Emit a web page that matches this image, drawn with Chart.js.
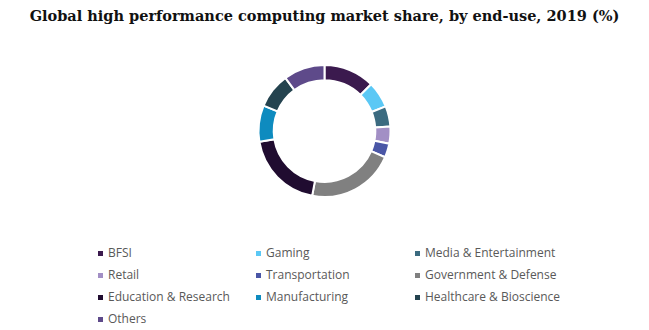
<!DOCTYPE html>
<html lang="en">

<head>
  <meta charset="UTF-8">
  <title>HPC market share by end-use</title>
  <style>
    body { margin: 0; background: #fff; width: 649px; height: 330px; position: relative; overflow: hidden; }
    h1 {
      position: absolute; top: 7px; left: 0; width: 649px; margin: 0;
      text-align: center; font: bold 14.5px "DejaVu Serif", serif; color: #111;
    }
    .grafico { position: absolute; left: 0; top: 64px; width: 649px; height: 134px; }
    .legenda { position: absolute; left: 0; top: 0; font: 12px "Open Sans", sans-serif; color: #595959; }
    .item { position: absolute; white-space: nowrap; line-height: 14px; }
    .item span.q { position: absolute; left: -10px; top: 5px; width: 5px; height: 5px; }
  </style>
</head>

<body>
  <h1>Global high performance computing market share, by end-use, 2019 (%)</h1>
  <div class="grafico"><canvas id="myCanvas"></canvas></div>
  <div class="legenda" id="legenda"></div>

  <script src="https://cdn.jsdelivr.net/npm/chart.js"></script>
  <script>
    // categorias e valores (%)
    const categorias = ['BFSI', 'Gaming', 'Media & Entertainment', 'Retail', 'Transportation',
      'Government & Defense', 'Education & Research', 'Manufacturing', 'Healthcare & Bioscience', 'Others'];
    const valores = [12.5, 6.4, 5.0, 4.2, 3.4, 21.5, 19.4, 8.9, 8.6, 10.1];
    const cores = ['#3b1a4e', '#5bc8f5', '#3b6b80', '#a28fc5', '#4a56a6',
      '#808080', '#200c30', '#0e8bbf', '#24434f', '#5e4a8a'];

    const ctx = document.getElementById('myCanvas').getContext('2d');
    const chart = new Chart(ctx, {
      type: 'doughnut',
      data: {
        labels: categorias,
        datasets: [{
          data: valores,
          backgroundColor: cores,
          borderColor: '#fff',
          borderWidth: 2
        }]
      },
      options: {
        responsive: true,
        maintainAspectRatio: false,
        animation: false,
        cutout: '77%',
        layout: { padding: 0 },
        plugins: {
          legend: { display: false },
          tooltip: { enabled: false }
        }
      }
    });

    // legenda em 3 colunas
    const colX = [108, 266, 425];
    const linhaY = [246, 268, 290, 312];
    const legenda = document.getElementById('legenda');
    categorias.forEach((nome, i) => {
      const div = document.createElement('div');
      div.className = 'item';
      div.style.left = colX[i % 3] + 'px';
      div.style.top = linhaY[Math.floor(i / 3)] + 'px';
      div.innerHTML = '<span class="q" style="background:' + cores[i] + '"></span>' + nome.replace('&', '&amp;');
      legenda.appendChild(div);
    });
  </script>
</body>

</html>
